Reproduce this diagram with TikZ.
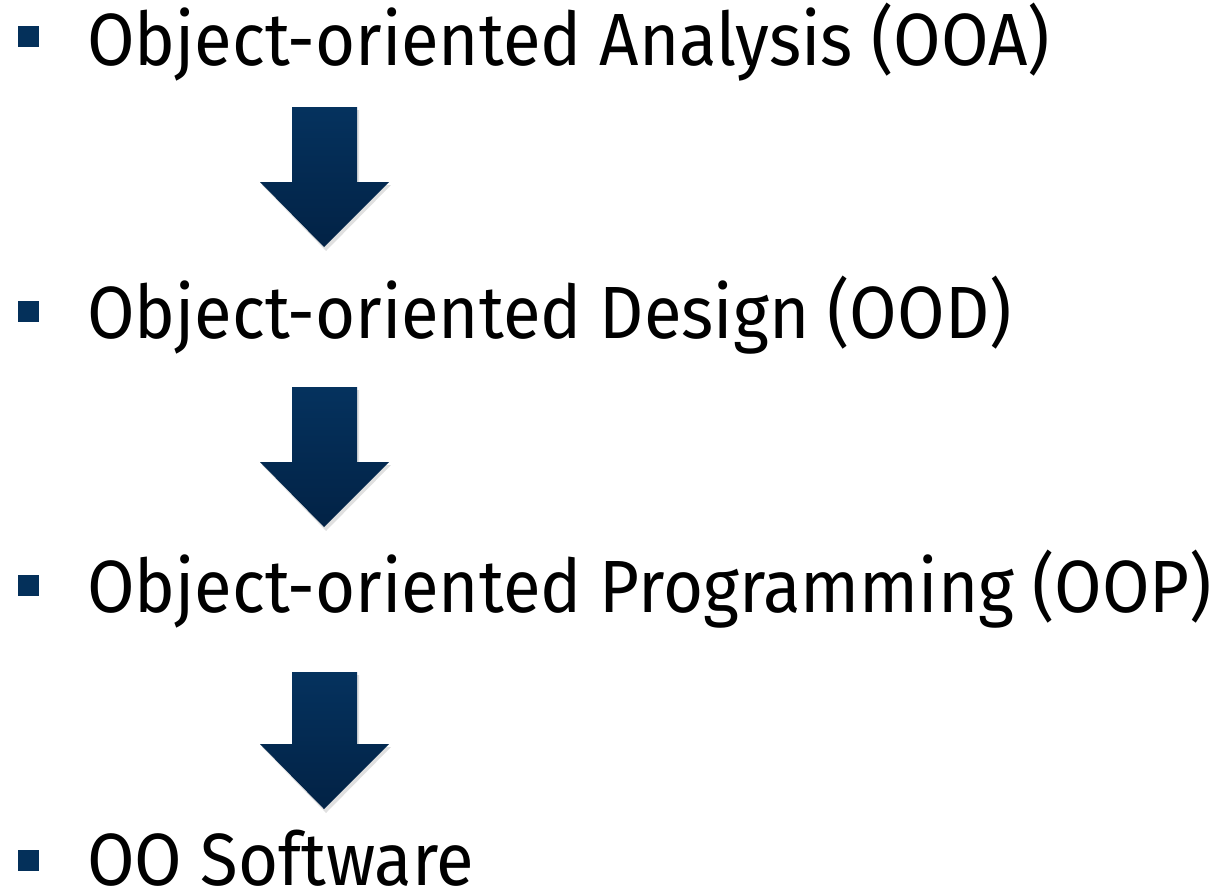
\documentclass[tikz,border=0pt]{standalone}
\usepackage{fontspec}
\setmainfont[FakeStretch=0.93]{Fira Sans}
\definecolor{navy}{HTML}{04305A}
\definecolor{navytop}{HTML}{05325E}
\definecolor{navybot}{HTML}{022245}
\begin{document}
\begin{tikzpicture}[x=1pt,y=-1pt,
  item/.style={anchor=base west,inner sep=0pt,font=\fontsize{74}{80}\selectfont,text=black},
  bulletsq/.style={fill=navy,draw=none}]
\useasboundingbox (0,0) rectangle (1214,887);
% text lines
\node[item] (ooa) at (87,65) {Object-oriented Analysis (OOA)};
\node[item] (ood) at (87,338) {Object-oriented Design (OOD)};
\node[item] (oop) at (87,612) {Object-oriented Programming (OOP)};
\node[item] (sw) at (87,885) {OO Software};
% bullets
\foreach \y in {26,301,575,850} {\fill[bulletsq] (18,\y) rectangle ++(21,21);}
% arrows
\foreach \t/\h/\p in {107/182/247,387/462/527,672/744/809} {
  \fill[black,opacity=0.12] (294,\t+3) -- (359,\t+3) -- (359,\h+3) -- (391,\h+3) -- (326,\p+4) -- (262,\h+3) -- (294,\h+3) -- cycle;
  \shade[top color=navytop,bottom color=navybot] (292,\t) -- (357,\t) -- (357,\h) -- (389,\h) -- (324,\p) -- (260,\h) -- (292,\h) -- cycle;
}
\end{tikzpicture}
\end{document}
